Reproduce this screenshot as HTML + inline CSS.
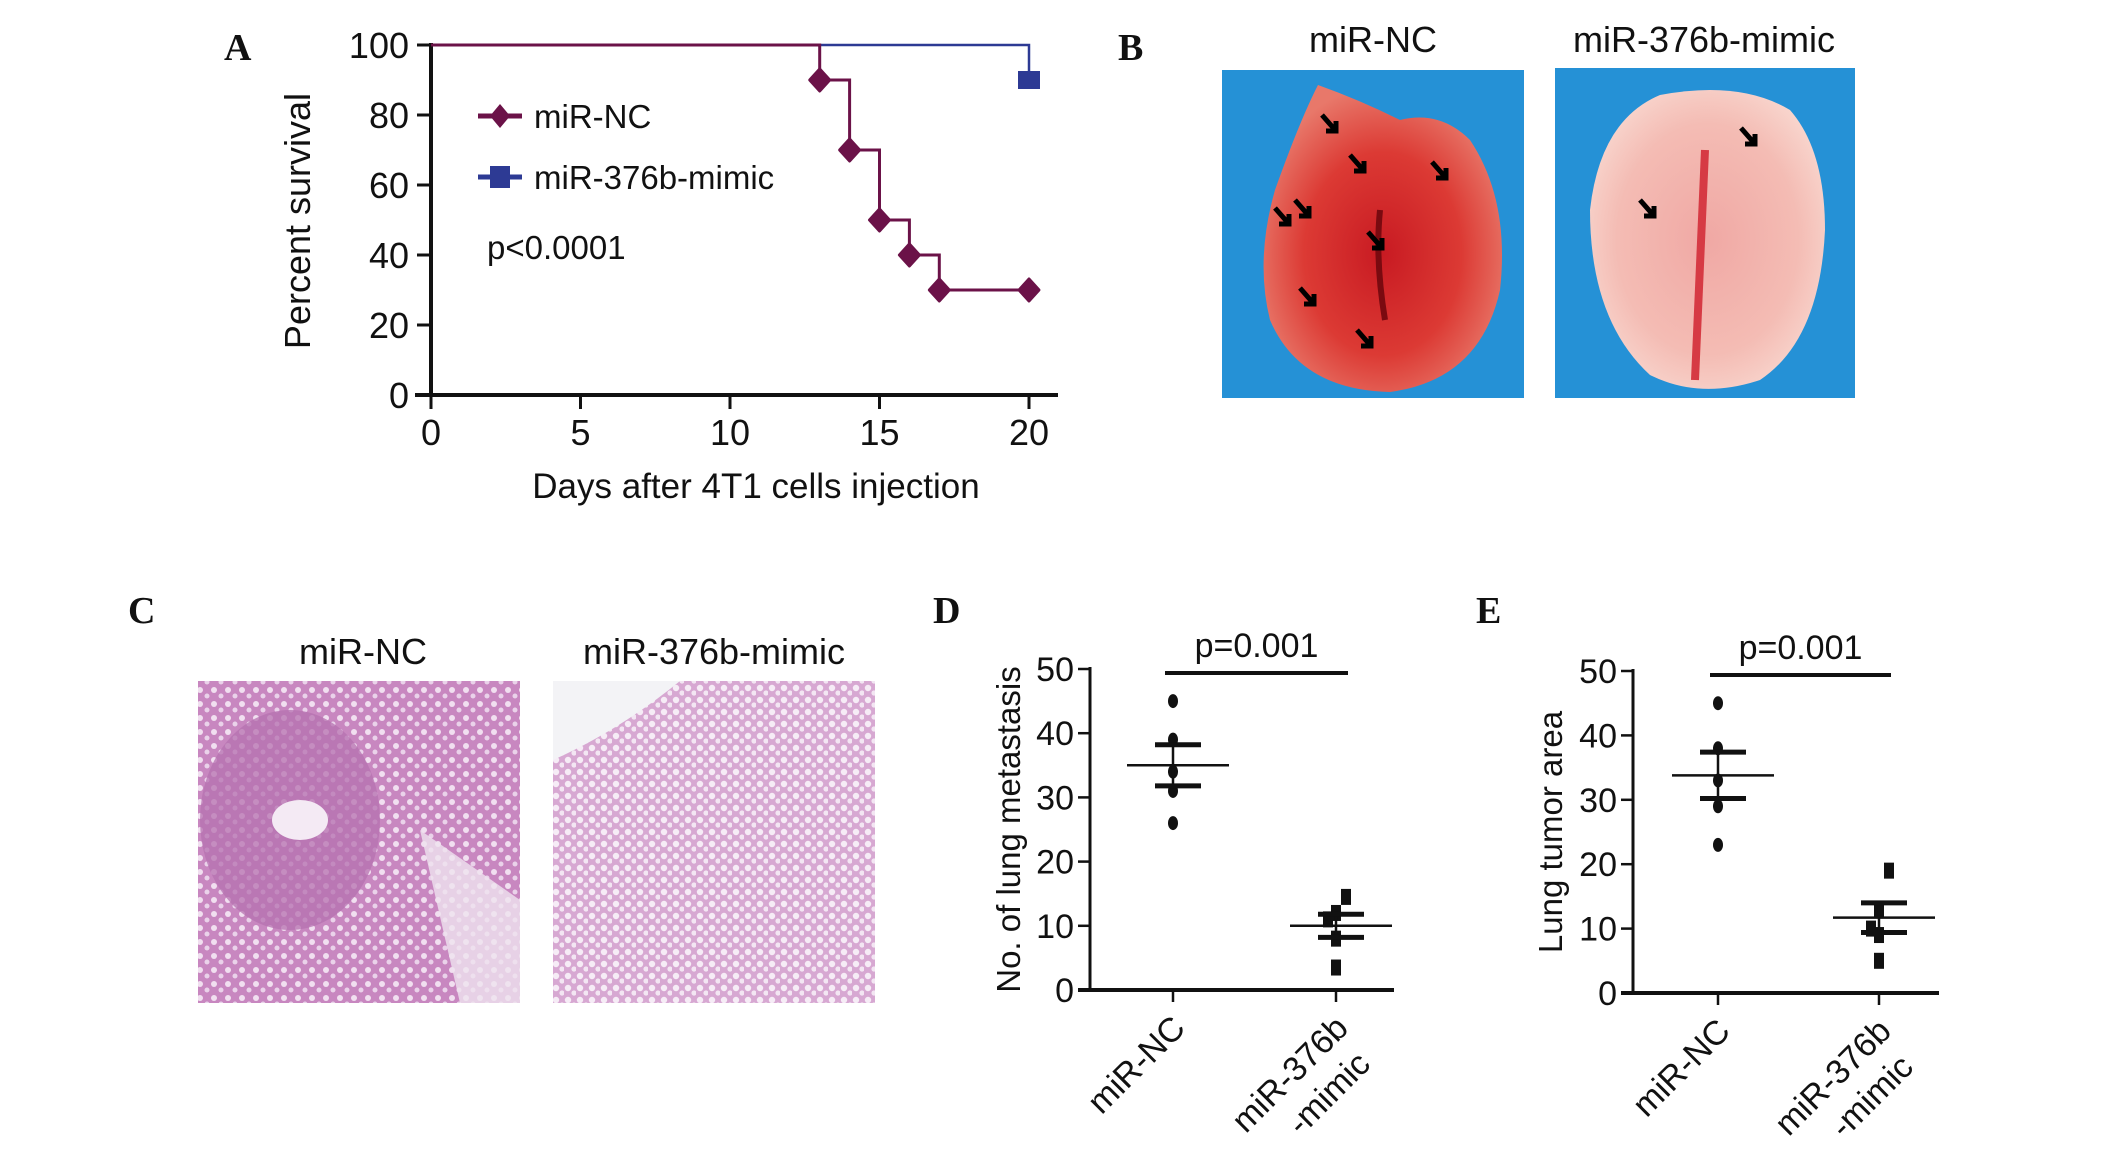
<!DOCTYPE html>
<html><head><meta charset="utf-8">
<style>
html,body{margin:0;padding:0;background:#fff;}
svg{display:block;}
text{font-family:"Liberation Sans",Arial,sans-serif;fill:#111;}
.lbl{font-family:"Liberation Serif",serif;font-weight:bold;font-size:38px;}
</style></head>
<body>
<svg id="fig" width="2126" height="1161" viewBox="0 0 2126 1161" xmlns="http://www.w3.org/2000/svg">
<defs>
<radialGradient id="lungA" cx="50%" cy="55%" r="55%">
<stop offset="0" stop-color="#c81a22"/><stop offset="0.6" stop-color="#dc3a34"/><stop offset="1" stop-color="#e8786a"/>
</radialGradient>
<radialGradient id="lungB" cx="50%" cy="50%" r="55%">
<stop offset="0" stop-color="#f0a8a4"/><stop offset="0.7" stop-color="#f4bcb4"/><stop offset="1" stop-color="#f8d4cc"/>
</radialGradient>
<pattern id="tis1" width="14" height="14" patternUnits="userSpaceOnUse">
<rect width="14" height="14" fill="#c887c0"/><circle cx="4" cy="4" r="3" fill="#f1dff0"/><circle cx="11" cy="10" r="2.5" fill="#ead2ea"/>
</pattern>
<pattern id="tis2" width="12" height="12" patternUnits="userSpaceOnUse">
<rect width="12" height="12" fill="#d7a8d2"/><circle cx="4" cy="4" r="3.2" fill="#f6ecf6"/><circle cx="10" cy="9" r="2.6" fill="#f3e6f3"/>
</pattern>
</defs>

<!-- Panel A -->
<text class="lbl" x="224" y="60">A</text>
<g id="panelA"></g>

<!-- Panel B -->
<text class="lbl" x="1118" y="60">B</text>
<text x="1373" y="52" font-size="36" text-anchor="middle">miR-NC</text>
<text x="1704" y="52" font-size="36" text-anchor="middle">miR-376b-mimic</text>
<g>
<rect x="1222" y="70" width="302" height="328" fill="#2591d6"/>
<path d="M1318 85 Q1300 120 1275 190 Q1255 260 1270 320 Q1300 390 1390 392 Q1480 380 1500 290 Q1510 200 1470 140 Q1440 110 1400 120 Q1360 100 1318 85Z" fill="url(#lungA)"/>
<path d="M1380 210 Q1375 260 1385 320" stroke="#7a0a10" stroke-width="6" fill="none"/>
<g stroke="#000" stroke-width="5" fill="none">
<path d="M1322 115 l14 16 m0 -10 v10 h-10"/><path d="M1350 155 l14 16 m0 -10 v10 h-10"/>
<path d="M1432 162 l14 16 m0 -10 v10 h-10"/><path d="M1295 200 l14 16 m0 -10 v10 h-10"/>
<path d="M1275 208 l14 16 m0 -10 v10 h-10"/><path d="M1368 232 l14 16 m0 -10 v10 h-10"/>
<path d="M1300 288 l14 16 m0 -10 v10 h-10"/><path d="M1357 330 l14 16 m0 -10 v10 h-10"/>
</g>
</g>
<g>
<rect x="1555" y="68" width="300" height="330" fill="#2591d6"/>
<path d="M1660 95 Q1600 120 1590 210 Q1590 320 1650 375 Q1700 400 1760 380 Q1820 340 1825 230 Q1825 150 1790 110 Q1740 80 1660 95Z" fill="url(#lungB)"/>
<path d="M1705 150 Q1700 260 1695 380" stroke="#d63a44" stroke-width="8" fill="none"/>
<g stroke="#000" stroke-width="5" fill="none">
<path d="M1741 128 l14 16 m0 -10 v10 h-10"/><path d="M1640 200 l14 16 m0 -10 v10 h-10"/>
</g>
</g>

<!-- Panel C -->
<text class="lbl" x="128" y="623">C</text>
<text x="363" y="664" font-size="36" text-anchor="middle">miR-NC</text>
<text x="714" y="664" font-size="36" text-anchor="middle">miR-376b-mimic</text>
<g>
<rect x="198" y="681" width="322" height="322" fill="url(#tis1)"/>
<ellipse cx="290" cy="820" rx="90" ry="110" fill="#b571b0" opacity="0.75"/>
<ellipse cx="300" cy="820" rx="28" ry="20" fill="#f4eaf4"/>
<path d="M420 830 L520 900 L520 1003 L460 1003 Z" fill="#efe4ef" opacity="0.8"/>
</g>
<g>
<rect x="553" y="681" width="322" height="322" fill="url(#tis2)"/>
<path d="M553 681 L680 681 Q620 730 553 760Z" fill="#f3f3f6"/>
</g>

<!-- Panel D/E -->
<text class="lbl" x="933" y="623">D</text>
<text class="lbl" x="1476" y="623">E</text>
<g id="panelD"></g>
<g id="panelE"></g>
</svg>

<script>
// ---------- Panel A data ----------
const survDays = [0, 13, 14, 15, 16, 17, 20];
const survNC = [100, 90, 70, 50, 40, 30, 30];
const survMimicDays = [0, 20];
const survMimic = [100, 90];
const survXTicks = [0, 5, 10, 15, 20];
const survYTicks = [0, 20, 40, 60, 80, 100];

// ---------- Panel D data ----------
const dCats = ["miR-NC", "miR-376b-mimic"];
const dNC = [45, 39, 34, 31, 26];
const dMimic = [14.5, 12, 11, 8, 3.5];
const dMean = [35, 10];
const dSem = [3.2, 1.8];
// ---------- Panel E data ----------
const eNC = [45, 38, 33, 29, 23];
const eMimic = [19, 13, 10, 9, 5];
const eMean = [33.8, 11.7];
const eSem = [3.6, 2.3];
const scatterYTicks = [0, 10, 20, 30, 40, 50];

const NS = "http://www.w3.org/2000/svg";
function mk(parent, tag, attrs, txt) {
  const e = document.createElementNS(NS, tag);
  for (const k in attrs) e.setAttribute(k, attrs[k]);
  if (txt !== undefined) e.textContent = txt;
  parent.appendChild(e);
  return e;
}

// ---------- Panel A ----------
(function () {
  const g = document.getElementById("panelA");
  const x0 = 431, x1 = 1029, yb = 395, yt = 45;
  const xs = d => x0 + (d - 0) / 20 * (x1 - x0);
  const ys = v => yb - v / 100 * (yb - yt);
  let e;
  e = mk(g, "line", {x1: x0, y1: yt - 2, x2: x0, y2: yb + 2, stroke: "#111", "stroke-width": 4});
  
  
  e = mk(g, "line", {x1: x0 - 16, y1: yb, x2: 1058, y2: yb, stroke: "#111", "stroke-width": 4});
  
  
  survYTicks.forEach(v => {
    mk(g, "line", {x1: x0 - 14, y1: ys(v), x2: x0, y2: ys(v), stroke: "#111", "stroke-width": 3});
    e = mk(g, "text", {x: x0 - 22, y: ys(v) + 13, "font-size": 36, "text-anchor": "end"}, v);
    
    
  });
  survXTicks.forEach(v => {
    mk(g, "line", {x1: xs(v), y1: yb, x2: xs(v), y2: yb + 14, stroke: "#111", "stroke-width": 3});
    e = mk(g, "text", {x: xs(v), y: yb + 50, "font-size": 36, "text-anchor": "middle"}, v);
    
    
  });
  e = mk(g, "text", {x: 756, y: 498, "font-size": 35, "text-anchor": "middle"}, "Days after 4T1 cells injection");
  
  
  e = mk(g, "text", {x: 310, y: 221, "font-size": 36, "text-anchor": "middle", transform: "rotate(-90 310 221)"}, "Percent survival");
  
  
  let d = "M" + xs(survMimicDays[0]) + " " + ys(survMimic[0]);
  for (let i = 1; i < survMimicDays.length; i++) d += " H" + xs(survMimicDays[i]) + " V" + ys(survMimic[i]);
  e = mk(g, "path", {d: d, stroke: "#2d3a94", "stroke-width": 2.5, fill: "none"});
  
  
  e = mk(g, "rect", {x: xs(20) - 11, y: ys(survMimic[1]) - 9, width: 22, height: 18, fill: "#2d3a94"});
  
  
  d = "M" + xs(survDays[0]) + " " + ys(survNC[0]);
  for (let i = 1; i < survDays.length; i++) d += " H" + xs(survDays[i]) + " V" + ys(survNC[i]);
  e = mk(g, "path", {d: d, stroke: "#6b1248", "stroke-width": 3, fill: "none"});
  
  
  for (let i = 1; i < survDays.length; i++) {
    e = mk(g, "path", {d: `M${xs(survDays[i])} ${ys(survNC[i]) - 11} L${xs(survDays[i]) + 10} ${ys(survNC[i])} L${xs(survDays[i])} ${ys(survNC[i]) + 11} L${xs(survDays[i]) - 10} ${ys(survNC[i])}Z`, fill: "#6b1248", stroke: "#6b1248", "stroke-width": 3, "stroke-linejoin": "round"});
    
    
  }
  e = mk(g, "line", {x1: 478, y1: 116, x2: 522, y2: 116, stroke: "#6b1248", "stroke-width": 5});
  
  
  e = mk(g, "path", {d: "M500 104 L510 116 L500 128 L490 116Z", fill: "#6b1248"});
  
  
  e = mk(g, "text", {x: 534, y: 128, "font-size": 33}, "miR-NC");
  
  
  e = mk(g, "line", {x1: 478, y1: 177, x2: 522, y2: 177, stroke: "#2d3a94", "stroke-width": 5});
  
  
  e = mk(g, "rect", {x: 490, y: 166, width: 20, height: 22, fill: "#2d3a94"});
  
  
  e = mk(g, "text", {x: 534, y: 189, "font-size": 33}, "miR-376b-mimic");
  
  
  e = mk(g, "text", {x: 487, y: 259, "font-size": 33}, "p<0.0001");
  
  
})();

// ---------- Scatter panels ----------
function scatter(id, cfg, ncVals, miVals, means, sems, title) {
  const g = document.getElementById(id);
  const xa = cfg.xa, yb = cfg.yb, yt = cfg.yt, cx = cfg.cx;
  const ys = v => yb - v / 50 * (yb - yt);
  let e;
  e = mk(g, "line", {x1: xa, y1: yt - 2, x2: xa, y2: yb, stroke: "#111", "stroke-width": 3});
  
  
  e = mk(g, "line", {x1: xa - 12, y1: yb, x2: cfg.xend, y2: yb, stroke: "#111", "stroke-width": 4});
  
  
  scatterYTicks.forEach(v => {
    mk(g, "line", {x1: xa - 12, y1: ys(v), x2: xa, y2: ys(v), stroke: "#111", "stroke-width": 2.5});
    e = mk(g, "text", {x: xa - 16, y: ys(v) + 12, "font-size": 34, "text-anchor": "end"}, v);
    
    
  });
  cx.forEach((x, i) => {
    mk(g, "line", {x1: x, y1: yb, x2: x, y2: yb + 12, stroke: "#111", "stroke-width": 2.5});
  });
  e = mk(g, "text", {x: cx[0] + 14, y: yb + 40, "font-size": 34, "text-anchor": "end", transform: `rotate(-45 ${cx[0] + 14} ${yb + 40})`}, dCats[0]);
  
  
  e = mk(g, "text", {x: cx[1] + 14, y: yb + 40, "font-size": 34, "text-anchor": "end", transform: `rotate(-45 ${cx[1] + 14} ${yb + 40})`}, "miR-376b");
  
  
  e = mk(g, "text", {x: cx[1] + 36, y: yb + 76, "font-size": 34, "text-anchor": "end", transform: `rotate(-45 ${cx[1] + 36} ${yb + 76})`}, "-mimic");
  
  
  e = mk(g, "text", {x: cfg.tx, y: (yt + yb) / 2, "font-size": 33, "text-anchor": "middle", transform: `rotate(-90 ${cfg.tx} ${(yt + yb) / 2})`}, title);
  
  
  e = mk(g, "line", {x1: cx[0] - 8, y1: ys(50) + 4, x2: cx[1] + 12, y2: ys(50) + 4, stroke: "#111", "stroke-width": 4});
  
  
  e = mk(g, "text", {x: (cx[0] + cx[1]) / 2 + 2, y: ys(50) - 12, "font-size": 34, "text-anchor": "middle"}, "p=0.001");
  
  
  ncVals.forEach(v => {
    e = mk(g, "ellipse", {cx: cx[0], cy: ys(v), rx: 5, ry: 7, fill: "#111"});
    
    
  });
  miVals.forEach((v, i) => {
    const off = [10, 0, -8, 0, 0][i];
    e = mk(g, "rect", {x: cx[1] - 5 + off, y: ys(v) - 8, width: 10, height: 16, fill: "#111"});
    
    
  });
  [0, 1].forEach(i => {
    const c = cx[i];
    e = mk(g, "line", {x1: c - 46, y1: ys(means[i]), x2: c + 56, y2: ys(means[i]), stroke: "#111", "stroke-width": 2.5});
    
    
    e = mk(g, "line", {x1: c, y1: ys(means[i] + sems[i]), x2: c, y2: ys(means[i] - sems[i]), stroke: "#111", "stroke-width": 2.5});
    
    
    [1, -1].forEach(s => {
      e = mk(g, "line", {x1: c - 18, y1: ys(means[i] + s * sems[i]), x2: c + 28, y2: ys(means[i] + s * sems[i]), stroke: "#111", "stroke-width": 5});
      
      
    });
  });
}
scatter("panelD", {xa: 1090, yb: 990, yt: 669, cx: [1173, 1336], xend: 1394, tx: 1020}, dNC, dMimic, dMean, dSem, "No. of lung metastasis");
scatter("panelE", {xa: 1633, yb: 993, yt: 671, cx: [1718, 1879], xend: 1939, tx: 1562}, eNC, eMimic, eMean, eSem, "Lung tumor area");
</script>
</body></html>
